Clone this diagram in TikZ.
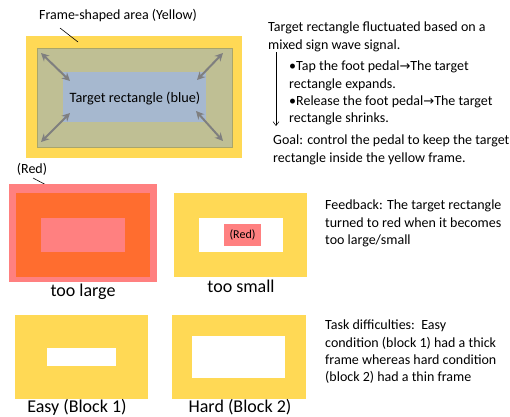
\documentclass[tikz,border=0pt]{standalone}
\usepackage{fontspec}
\setmainfont{Carlito}
\newfontfamily\symf{DejaVu Sans}
\usetikzlibrary{arrows.meta}
\definecolor{ylw}{HTML}{FFD955}
\definecolor{olv}{HTML}{BFBF94}
\definecolor{olvb}{HTML}{A9A56A}
\definecolor{blu}{HTML}{A6B8CF}
\definecolor{slm}{HTML}{FF8080}
\definecolor{org}{HTML}{FF6D2F}
\definecolor{gry}{HTML}{7F7F7F}
\newcommand{\ra}{{\symf\fontsize{13}{14}\selectfont →}}
\tikzset{
  txt/.style={anchor=north west, align=left, inner sep=0pt, font=\fontsize{14}{17.3}\selectfont},
  captxt/.style={inner sep=0pt, font=\fontsize{18}{20}\selectfont},
  garrow/.style={draw=gry, line width=2pt, {Stealth[length=8pt,width=8pt]}-{Stealth[length=8pt,width=8pt]}},
  leader/.style={draw=black, line width=0.6pt}
}
\begin{document}
\begin{tikzpicture}[x=1pt,y=-1pt]
\useasboundingbox (0,0) rectangle (510,416);
% top frame
\fill[ylw] (26,36) rectangle (242,158);
\draw[fill=olv, draw=olvb, line width=1pt] (37,48) rectangle (232,147);
\fill[blu] (63,72) rectangle (206,122);
\node[font=\fontsize{14.3}{16}\selectfont] (tr) at (135,98) {Target rectangle (blue)};
\coordinate (a1) at (41,53); \coordinate (b1) at (70,81);
\coordinate (a2) at (223,53); \coordinate (b2) at (197,80);
\coordinate (a3) at (41,142); \coordinate (b3) at (70,113);
\coordinate (a4) at (223,141); \coordinate (b4) at (196,111);
\draw[garrow] (a1) -- (b1);
\draw[garrow] (a2) -- (b2);
\draw[garrow] (a3) -- (b3);
\draw[garrow] (a4) -- (b4);
\node[font=\fontsize{14}{16}\selectfont] (fsa) at (118,16) {Frame-shaped area (Yellow)};
\coordinate (l1a) at (60,28); \coordinate (l1b) at (78,42);
\draw[leader] (l1a) -- (l1b);
% right text top
\node[txt] (t1) at (268,22) {Target rectangle fluctuated based on a\\mixed sign wave signal.};
\node[txt] (t2) at (289,61) {•Tap the foot pedal\ra The target\\rectangle expands.\\•Release the foot pedal\ra The target\\rectangle shrinks.};
\node[txt] (t3) at (273,135) {Goal: control the pedal to keep the target\\rectangle inside the yellow frame.};
\coordinate (va) at (276,52); \coordinate (vb) at (276,126);
\draw[-{Straight Barb[length=4pt,width=6pt]}, line width=0.5pt] (va) -- (vb);
% too large
\node[font=\fontsize{14}{16}\selectfont] (red1) at (32,169) {(Red)};
\coordinate (l2a) at (33,178); \coordinate (l2b) at (50,187);
\draw[leader] (l2a) -- (l2b);
\fill[slm] (9,184) rectangle (157,282);
\fill[org] (16,193) rectangle (150,277);
\fill[slm] (41,218) rectangle (125,252);
\node[captxt] (tl) at (83,292) {too large};
% too small
\fill[ylw] (174,193) rectangle (307,277);
\fill[white] (199,218) rectangle (283,252);
\fill[slm] (224,224) rectangle (261,246);
\node[font=\fontsize{12}{14}\selectfont] (red2) at (242.5,235) {(Red)};
\node[captxt] (ts) at (241,286) {too small};
\node[txt] (fb) at (325,200) {Feedback: The target rectangle\\turned to red when it becomes\\too large/small};
% bottom
\fill[ylw] (15,315) rectangle (148,399);
\fill[white] (47,348) rectangle (116,366);
\node[captxt] (ez) at (77,407) {Easy (Block 1)};
\fill[ylw] (172,315) rectangle (306,399);
\fill[white] (192,336) rectangle (285,378);
\node[captxt] (hd) at (240,407) {Hard (Block 2)};
\node[txt] (td) at (325,320) {Task difficulties:\ \ Easy\\condition (block 1) had a thick\\frame whereas hard condition\\(block 2) had a thin frame};
\end{tikzpicture}
\end{document}
